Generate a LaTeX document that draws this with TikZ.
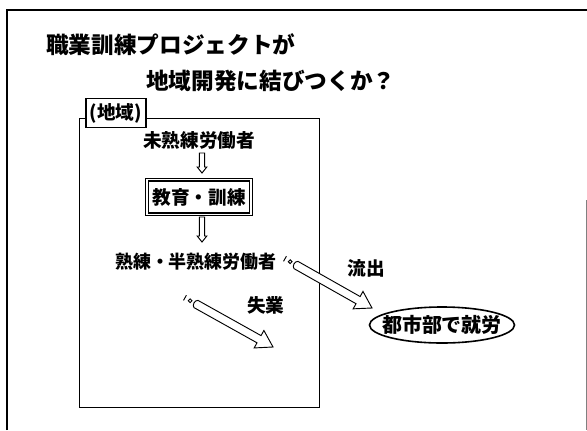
\documentclass[tikz,border=0pt]{standalone}
\usepackage{fontspec}
\newfontfamily\cjk{Noto Sans CJK JP}
\usetikzlibrary{calc,shapes.geometric}
\newcommand\blockarr[5]{% tail, tip, shaft half width, head half width, head length
  \coordinate (hN) at ($(#2)!#5!(#1)$);
  \draw[arrowbody] ($(#1)!#3!90:(#2)$) -- ($(hN)!#3!90:(#2)$) -- ($(hN)!#4!90:(#2)$) -- (#2)
    -- ($(hN)!#4!-90:(#2)$) -- ($(hN)!#3!-90:(#2)$) -- ($(#1)!#3!-90:(#2)$) -- cycle;
}
\newcommand\bigarr[2]{% tail, tip, with rounded tail and small marks
  \coordinate (hN) at ($(#2)!12pt!(#1)$);
  \coordinate (tB1) at ($(#1)!-5pt!(#2)$);
  \coordinate (tB2) at ($(#1)!-9.5pt!(#2)$);
  \draw[arrowbody] ($(#1)!3.1pt!90:(#2)$) -- ($(hN)!3.1pt!90:(#2)$) -- ($(hN)!7.5pt!90:(#2)$) -- (#2)
    -- ($(hN)!7.5pt!-90:(#2)$) -- ($(hN)!3.1pt!-90:(#2)$) -- ($(#1)!3.1pt!-90:(#2)$)
    to[bend left=70] ($(#1)!3.1pt!90:(#2)$) -- cycle;
  \draw[line width=0.7pt] (tB1) circle[radius=1.4pt];
  \draw[line width=0.7pt] ($(tB2)!2.2pt!90:(#2)$) -- ($(tB2)!2.2pt!-90:(#2)$);
}
\begin{document}
\begin{tikzpicture}[x=0.75pt,y=-0.75pt,
  title/.style={font=\cjk\bfseries\fontsize{17}{19}\selectfont, anchor=west, inner sep=0pt},
  body/.style={font=\cjk\bfseries\fontsize{14}{16}\selectfont, inner sep=0pt},
  arrowbody/.style={draw=black, fill=white, line width=0.7pt, line join=miter},
  ]
\useasboundingbox (0,0) rectangle (587,430);
% outer frame
\draw[line width=2pt] (7,430) -- (7,10) -- (587,10);
\draw[gray, line width=0.5pt] (586,200) -- (586,430);

% title
\node[title] (t1) at (46,45) {職業訓練プロジェクトが};
\node[title] (t2) at (146,81) {地域開発に結びつくか？};

% region box and label
\node[draw, line width=0.9pt, minimum width=180pt, minimum height=216.75pt, anchor=north west, inner sep=0pt] (region) at (79,118) {};
\node[draw, fill=white, line width=0.9pt, minimum width=45pt, minimum height=22pt, inner sep=0pt,
      font=\cjk\bfseries\fontsize{14}{16}\selectfont] (label) at (116,113) {(地域)};

% contents
\node[body] (unsk) at (199,140) {未熟練労働者};
\node[body, draw, double, double distance=1pt, line width=1pt, minimum width=78pt, minimum height=26pt] (edu) at (199,197) {教育・訓練};
\node[body, font=\cjk\bfseries\fontsize{13.5}{15}\selectfont] (skilled) at (196,262) {熟練・半熟練労働者};

\coordinate (d1a) at (202,153);
\coordinate (d1b) at (202,173);
\coordinate (d2a) at (202,217);
\coordinate (d2b) at (202,242);
\blockarr{d1a}{d1b}{2pt}{3.6pt}{4.5pt}
\blockarr{d2a}{d2b}{2pt}{3.6pt}{4.5pt}

\node[body] (outlab) at (366,268) {流出};
\node[body] (unemplab) at (266,305) {失業};

\node[ellipse, draw, line width=1.2pt, minimum width=108.75pt, minimum height=27pt, inner sep=0pt] (city) at (442,325) {};
\node[body, font=\cjk\bfseries\fontsize{15}{17}\selectfont] (citytext) at (city.center) {都市部で就労};

\coordinate (outT) at (296,265);
\coordinate (outH) at (372,308);
\bigarr{outT}{outH}
\coordinate (unT) at (196,304);
\coordinate (unH) at (273,347);
\bigarr{unT}{unH}
\end{tikzpicture}
\end{document}
